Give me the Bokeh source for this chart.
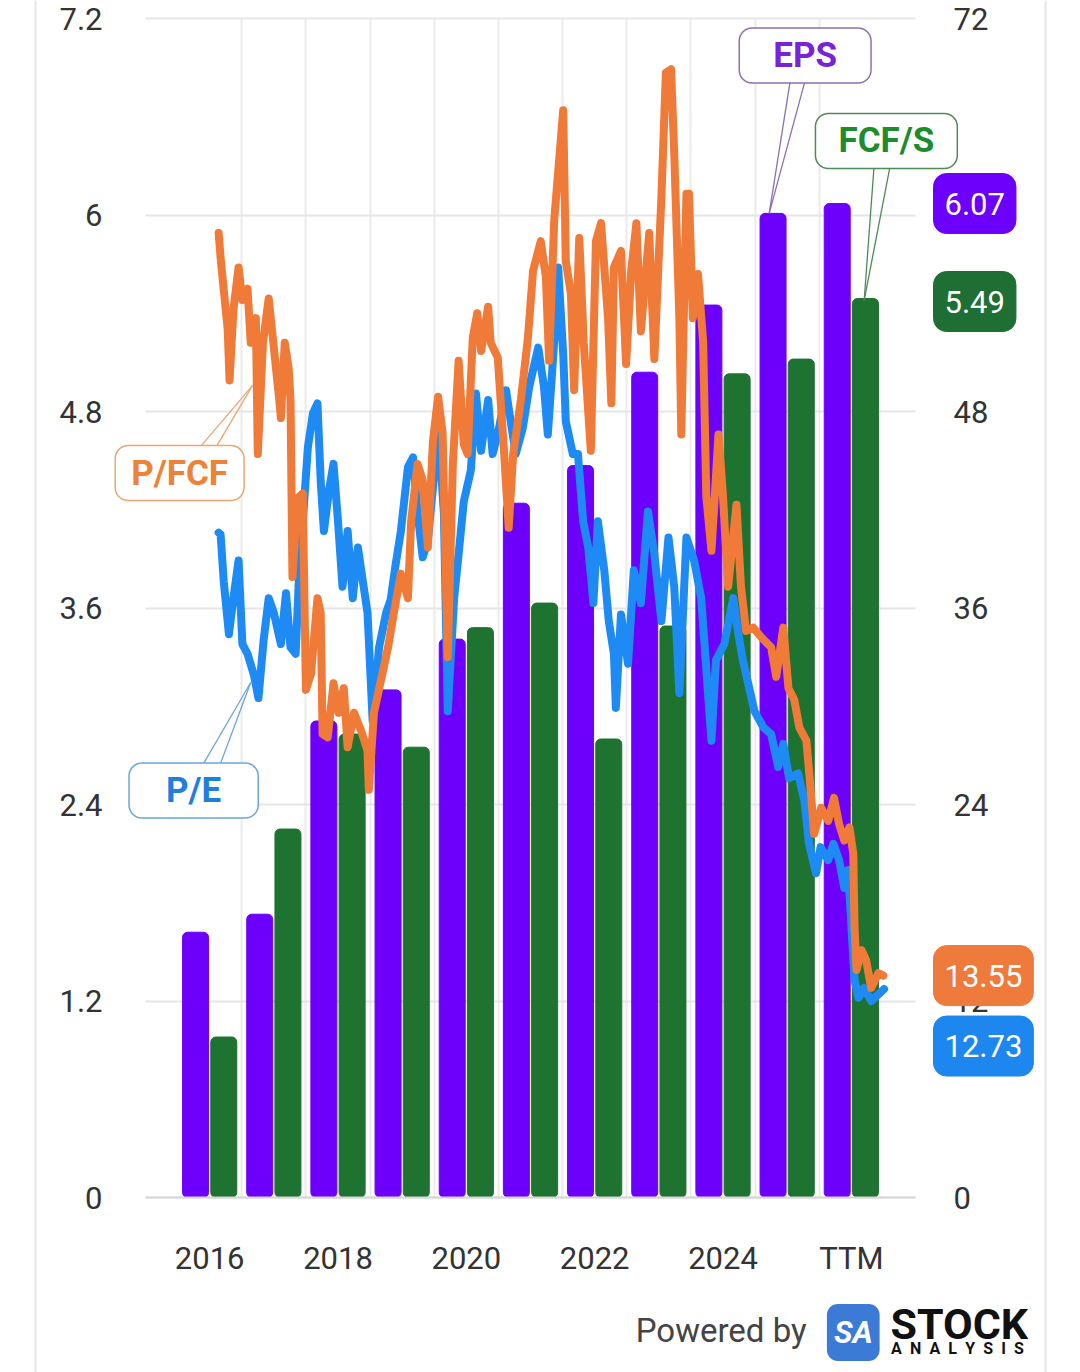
from bokeh.plotting import figure
from bokeh.models import Range1d, LinearAxis, FixedTicker, Label, Span
from bokeh.embed import file_html
from bokeh.resources import INLINE

# ---------------- data ----------------
periods = ["2016", "2017", "2018", "2019", "2020", "2021", "2022", "2023", "2024", "2025", "TTM"]
eps = [1.62, 1.73, 2.91, 3.10, 3.41, 4.24, 4.47, 5.04, 5.45, 6.01, 6.07]
fcf_per_share = [0.98, 2.25, 2.83, 2.75, 3.48, 3.63, 2.80, 3.49, 5.03, 5.12, 5.49]

x_tick_positions = [0, 2, 4, 6, 8, 10]
x_tick_labels = ["2016", "2018", "2020", "2022", "2024", "TTM"]
left_ticks = [0, 1.2, 2.4, 3.6, 4.8, 6, 7.2]
left_tick_labels = ["0", "1.2", "2.4", "3.6", "4.8", "6", "7.2"]
right_ticks = [0, 12, 24, 36, 48, 60, 72]

# position along the period axis (0 = 2016 ... 10 = TTM)
pe_x = [0.14, 0.17, 0.22, 0.30, 0.37, 0.45, 0.51, 0.59, 0.69, 0.76, 0.84, 0.92, 1.00, 1.11, 1.19,
        1.26, 1.34, 1.39, 1.53, 1.61, 1.68, 1.73, 1.78, 1.86, 1.93, 2.00, 2.07, 2.15, 2.23, 2.31,
        2.40, 2.46, 2.51, 2.54, 2.64, 2.75, 2.82, 2.90, 2.98, 3.09, 3.17, 3.24, 3.32, 3.40, 3.49,
        3.57, 3.65, 3.71, 3.81, 3.88, 3.96, 4.07, 4.15, 4.23, 4.34, 4.41, 4.51, 4.62, 4.66, 4.77,
        4.88, 4.98, 5.12, 5.21, 5.27, 5.37, 5.43, 5.51, 5.55, 5.66, 5.74, 5.82, 5.90, 5.98, 6.05,
        6.15, 6.22, 6.30, 6.33, 6.41, 6.52, 6.61, 6.72, 6.83, 6.93, 7.04, 7.15, 7.24, 7.32, 7.43,
        7.55, 7.66, 7.82, 7.89, 8.02, 8.16, 8.24, 8.31, 8.41, 8.49, 8.63, 8.75, 8.86, 8.94, 9.03,
        9.17, 9.27, 9.34, 9.45, 9.52, 9.64, 9.72, 9.81, 9.89, 9.95, 10.05, 10.11, 10.20, 10.31,
        10.42, 10.51]
pe = [40.6, 40.5, 37.6, 34.4, 36.6, 38.9, 33.8, 33.2, 31.9, 30.5, 34.0, 36.6, 35.7, 33.8, 36.9,
      33.6, 33.2, 37.7, 45.8, 47.9, 48.5, 43.8, 40.7, 43.2, 44.8, 41.3, 37.3, 40.7, 36.6, 39.7,
      37.3, 35.7, 31.6, 29.1, 33.6, 35.7, 36.5, 38.7, 40.7, 44.6, 45.2, 41.8, 39.1, 40.1, 43.8,
      46.6, 41.8, 29.7, 36.6, 39.3, 42.5, 44.4, 49.1, 45.6, 48.7, 45.4, 47.0, 49.3, 48.2, 45.4,
      47.0, 49.5, 51.9, 49.5, 46.6, 52.3, 56.8, 51.5, 47.4, 45.4, 45.4, 41.3, 39.7, 36.3, 41.3,
      38.3, 35.2, 33.2, 29.9, 35.6, 32.6, 38.3, 36.3, 41.9, 39.3, 35.2, 40.3, 37.3, 30.8, 40.3,
      38.9, 36.6, 27.9, 32.8, 33.8, 36.6, 34.4, 32.8, 31.1, 29.7, 28.7, 28.3, 26.3, 27.7, 25.6,
      25.9, 24.2, 21.6, 19.8, 21.4, 20.6, 21.6, 20.6, 18.9, 20.0, 13.3, 12.2, 12.8, 12.0,
      12.4, 12.73]

pfcf_x = [0.14, 0.17, 0.25, 0.28, 0.31, 0.37, 0.45, 0.51, 0.59, 0.64, 0.72, 0.75, 0.83, 0.92, 1.00,
          1.08, 1.11, 1.17, 1.23, 1.26, 1.29, 1.37, 1.45, 1.50, 1.58, 1.68, 1.73, 1.76, 1.84, 1.93,
          2.01, 2.09, 2.15, 2.25, 2.36, 2.46, 2.48, 2.56, 2.67, 2.78, 2.87, 2.98, 3.09, 3.14, 3.24,
          3.32, 3.40, 3.48, 3.56, 3.63, 3.71, 3.79, 3.88, 3.96, 4.02, 4.10, 4.17, 4.23, 4.34, 4.38,
          4.49, 4.59, 4.66, 4.73, 4.85, 4.96, 5.04, 5.16, 5.24, 5.29, 5.37, 5.51, 5.55, 5.63, 5.68,
          5.76, 5.83, 5.94, 6.02, 6.10, 6.21, 6.26, 6.30, 6.41, 6.49, 6.57, 6.65, 6.72, 6.85, 6.93,
          7.04, 7.11, 7.19, 7.24, 7.32, 7.35, 7.43, 7.47, 7.53, 7.61, 7.69, 7.74, 7.82, 7.93, 8.00,
          8.08, 8.21, 8.28, 8.36, 8.47, 8.60, 8.75, 8.83, 8.94, 9.02, 9.11, 9.19, 9.30, 9.37, 9.42,
          9.53, 9.64, 9.73, 9.81, 9.89, 9.97, 10.03, 10.05, 10.08, 10.16, 10.23, 10.31, 10.42, 10.50]
pfcf = [58.9, 57.4, 54.2, 53.1, 49.9, 54.2, 56.8, 54.8, 55.5, 52.2, 53.7, 45.4, 52.2, 54.9, 51.9,
        48.9, 47.6, 52.2, 50.7, 48.7, 37.9, 42.7, 43.0, 31.0, 32.0, 36.6, 35.7, 28.3, 28.1, 31.4,
        29.6, 31.1, 27.5, 29.6, 28.5, 27.3, 24.9, 29.6, 31.6, 33.6, 35.7, 38.1, 36.6, 41.3, 44.8,
        43.8, 39.7, 46.2, 48.9, 46.7, 33.0, 44.8, 51.1, 46.0, 45.4, 52.5, 54.0, 51.7, 54.4, 52.2,
        51.3, 45.4, 40.9, 45.4, 48.7, 52.5, 56.6, 58.4, 56.2, 51.1, 59.7, 66.4, 57.2, 55.2, 49.3,
        58.6, 52.2, 45.6, 58.4, 59.5, 53.6, 48.5, 56.8, 57.8, 50.9, 56.6, 59.5, 52.9, 58.9, 51.2,
        61.1, 68.7, 68.9, 63.8, 53.7, 46.6, 61.3, 61.3, 53.7, 56.4, 52.3, 42.8, 39.5, 46.6, 42.8,
        37.3, 42.3, 37.3, 34.6, 34.8, 34.2, 33.6, 31.8, 34.8, 31.1, 30.4, 28.7, 27.9, 24.7, 22.2,
        23.8, 23.0, 24.4, 22.8, 21.8, 22.6, 21.0, 16.5, 13.9, 15.1, 14.5, 12.8, 13.7, 13.55]

# ---------------- layout constants ----------------
W, H = 1080, 1372
PLOT_L, PLOT_R, PLOT_T, PLOT_B = 145, 915, 18, 1197   # pixel box of the data area
X0, X1 = -1.0, 11.0
Y0, Y1 = 0.0, 7.2
sx = (PLOT_R - PLOT_L) / (X1 - X0)
sy = (PLOT_B - PLOT_T) / (Y1 - Y0)
xr = Range1d(X0 - PLOT_L / sx, X1 + (W - PLOT_R) / sx)
yr = Range1d(Y0 - (H - PLOT_B) / sy, Y1 + PLOT_T / sy)
RATIO = 10.0  # right axis / left axis

PURPLE = "#6C00FA"
GREEN = "#1E7331"
ORANGE = "#F07A38"
BLUE = "#1E8BF5"
FONT = "Roboto"

p = figure(width=W, height=H, x_range=xr, y_range=yr, output_backend="svg", toolbar_location=None,
           min_border=0, x_axis_location=None, y_axis_location=None)
p.extra_y_ranges = {"r": Range1d(yr.start * RATIO, yr.end * RATIO)}
p.outline_line_color = None
p.background_fill_color = "white"
p.border_fill_color = "white"

left_axis = LinearAxis(ticker=FixedTicker(ticks=left_ticks), fixed_location=X0, bounds=(Y0, Y1))
left_axis.major_label_overrides = {t: s for t, s in zip(left_ticks, left_tick_labels)}
right_axis = LinearAxis(y_range_name="r", ticker=FixedTicker(ticks=right_ticks), fixed_location=X1,
                        bounds=(Y0 * RATIO, Y1 * RATIO))
x_axis = LinearAxis(ticker=FixedTicker(ticks=x_tick_positions), fixed_location=Y0, bounds=(X0, X1))
x_axis.major_label_overrides = {t: s for t, s in zip(x_tick_positions, x_tick_labels)}
p.add_layout(left_axis, "left")
p.add_layout(right_axis, "right")
p.add_layout(x_axis, "below")

for ax in (left_axis, right_axis, x_axis):
    ax.major_tick_line_color = None
    ax.minor_tick_line_color = None
    ax.major_label_text_font = FONT
    ax.major_label_text_font_size = "31px"
    ax.major_label_text_color = "#333333"
left_axis.axis_line_color = None
right_axis.axis_line_color = None
x_axis.axis_line_color = "#d6d6d6"
x_axis.axis_line_width = 2
left_axis.major_label_standoff = 37
right_axis.major_label_standoff = 32
x_axis.major_label_standoff = 36

p.xgrid.ticker = FixedTicker(ticks=[i + 0.5 for i in range(len(periods) - 1)])
p.ygrid.ticker = FixedTicker(ticks=left_ticks)
p.xgrid.cross_bounds = (Y0, Y1)
p.ygrid.cross_bounds = (X0, X1)
p.xgrid.grid_line_color = "#ebebeb"
p.ygrid.grid_line_color = "#e6e6e6"
p.xgrid.grid_line_width = 2
p.ygrid.grid_line_width = 2

# page edge lines of the original screenshot
for px in (35, 1045):
    p.add_layout(Span(location=X0 + (px - PLOT_L) / sx, dimension="height",
                      line_color="#e6e6e6", line_width=2))

idx = list(range(len(periods)))
p.vbar(x=[i - 0.22 for i in idx], top=eps, width=0.405, color=PURPLE, border_radius=5)
p.vbar(x=[i + 0.22 for i in idx], top=fcf_per_share, width=0.405, color=GREEN, border_radius=5)

p.line(pe_x, pe, y_range_name="r", line_width=8, color=BLUE, line_join="round", line_cap="round")
p.line(pfcf_x, pfcf, y_range_name="r", line_width=8, color=ORANGE, line_join="round", line_cap="round")

# ---------------- callouts ----------------
def callout(text, cx, cy, tail, color, border, pad_x):
    (bx0, by0), (bx1, by1), (ax_, ay_) = tail
    p.segment(x0=[bx0, bx1], y0=[by0, by1], x1=[ax_, ax_], y1=[ay_, ay_],
              line_color=border, line_width=1.3)
    p.add_layout(Label(x=cx, y=cy, text=text, text_align="center", text_baseline="middle",
                       text_font=FONT, text_font_style="bold", text_font_size="35px",
                       text_color=color, background_fill_color="white",
                       border_line_color=border, border_line_width=1.5,
                       padding=dict(left=pad_x, right=pad_x, top=7, bottom=7), border_radius=13))

callout("P/FCF", -0.468, 4.424, ((-0.22, 4.55), (0.05, 4.55), (0.67, 4.96)), "#EE8236", "#E9A777", 16)
callout("P/E", -0.25, 2.485, ((-0.14, 2.62), (0.14, 2.62), (0.64, 3.145)), "#1E7FDD", "#6FA5DA", 37)
callout("EPS", 9.28, 6.974, ((9.06, 6.85), (9.30, 6.85), (8.72, 6.01)), "#7A22D8", "#8E6FB2", 34)
callout("FCF/S", 10.546, 6.452, ((10.36, 6.33), (10.62, 6.33), (10.20, 5.478)), "#1E8C2C", "#4F8A55", 23)

# ---------------- last value badges ----------------
BADGE_X = X1 + (933 - PLOT_R) / sx

def badge(val, y, color, rng="default", yoff=0):
    kw = {} if rng == "default" else {"y_range_name": rng}
    p.add_layout(Label(x=BADGE_X, y=y, text=f"{val:.2f}", text_align="left", text_baseline="middle",
                       text_font=FONT, text_font_size="31px", text_color="white",
                       background_fill_color=color, border_line_color=color,
                       padding=dict(left=11, right=11, top=19, bottom=19), border_radius=13,
                       y_offset=yoff, **kw))

badge(eps[-1], eps[-1], PURPLE)
badge(fcf_per_share[-1], fcf_per_share[-1], "#1F6E34", yoff=-3)
badge(pfcf[-1], pfcf[-1], "#EE7A3C", "r")
badge(pe[-1], pe[-1], "#1D87EF", "r", yoff=-57)

# ---------------- footer ----------------
p.add_layout(Label(x=6.64, y=-0.812, text="Powered by", text_align="left", text_baseline="middle",
                   text_font=FONT, text_font_size="33px", text_color="#444444"))
p.add_layout(Label(x=10.03, y=-0.824, text="SA", text_align="center", text_baseline="middle",
                   text_font=FONT, text_font_style="bold italic", text_font_size="31px",
                   text_color="white", background_fill_color="#3B7BD6",
                   padding=dict(left=7, right=7, top=10, bottom=10), border_radius=11))
p.add_layout(Label(x=10.61, y=-0.775, text="STOCK", text_align="left", text_baseline="middle",
                   text_font=FONT, text_font_style="bold", text_font_size="43px", text_color="#111111"))
p.add_layout(Label(x=10.62, y=-0.925, text="\u2002".join("ANALYSIS"), text_align="left",
                   text_baseline="middle", text_font=FONT, text_font_style="bold",
                   text_font_size="16px", text_color="#111111"))

open("out.html", "w").write(file_html(p, INLINE))
